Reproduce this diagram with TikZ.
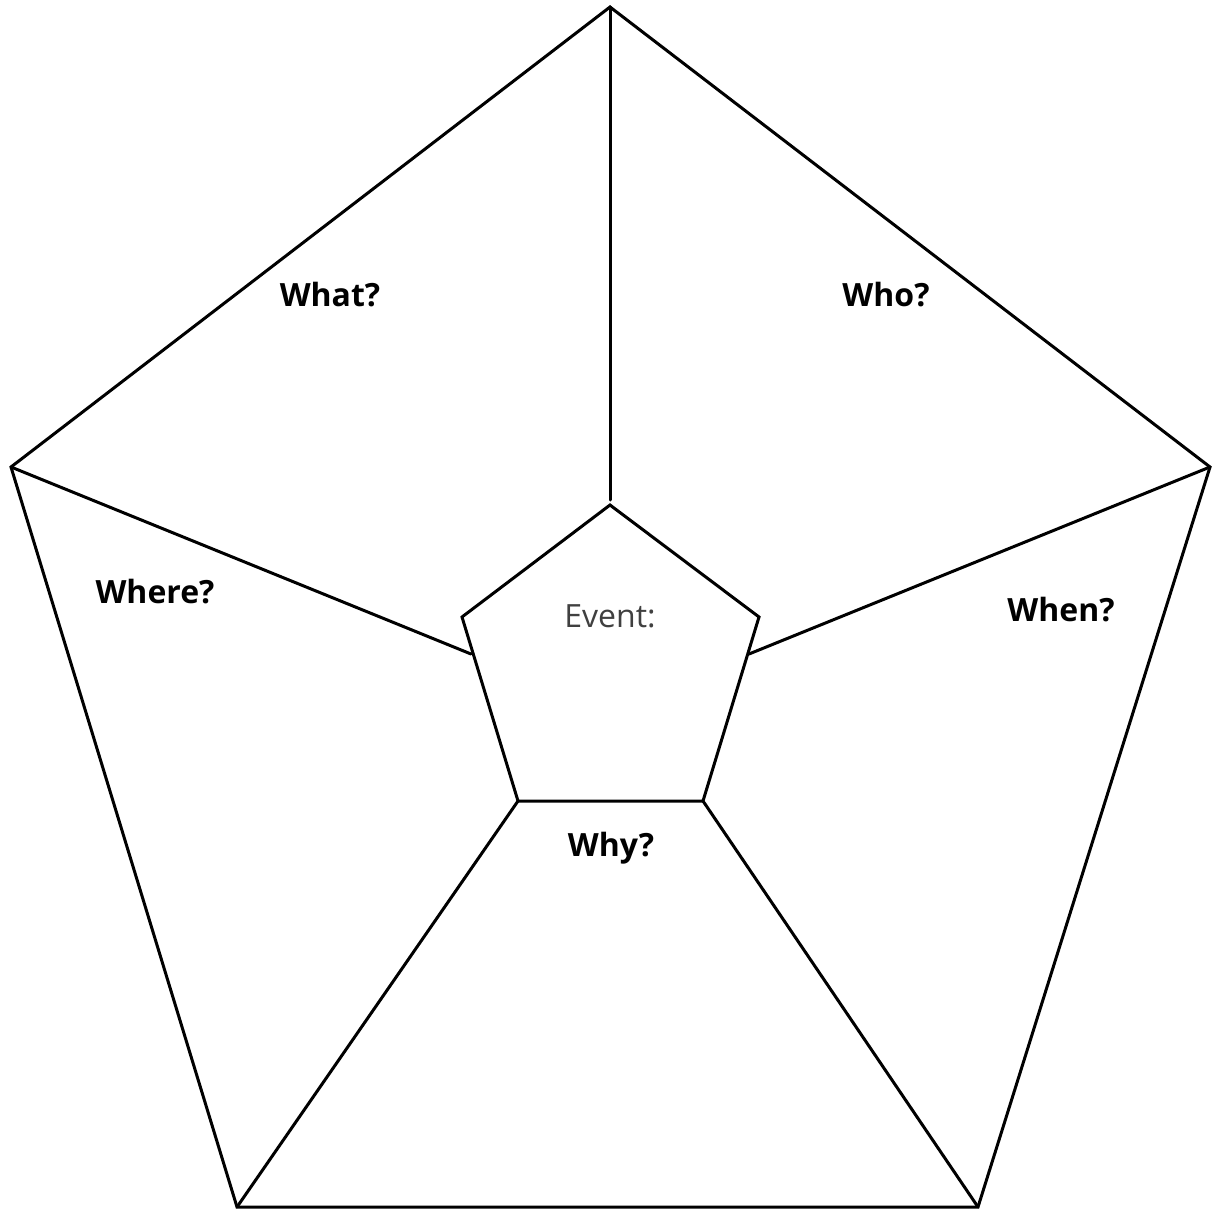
\documentclass[tikz,border=0pt]{standalone}
\usepackage{fontspec}
\setmainfont{Open Sans}
\begin{document}
\begin{tikzpicture}[x=0.5pt,y=-0.5pt,
  edge/.style={line width=1.5pt,line join=miter,line cap=round},
  qlabel/.style={font=\fontsize{16}{19}\selectfont\bfseries,text=black,inner sep=0pt},
  evlabel/.style={font=\fontsize{16}{19}\selectfont,text=black!75,inner sep=0pt}]
\useasboundingbox (0,0) rectangle (1215,1209);
% outer pentagon
\coordinate (OT) at (610,7);
\coordinate (OR) at (1210,467);
\coordinate (OBR) at (978,1207);
\coordinate (OBL) at (237,1207);
\coordinate (OL) at (11,467);
% inner pentagon
\coordinate (IT) at (610,505);
\coordinate (IR) at (759,617);
\coordinate (IBR) at (703,801);
\coordinate (IBL) at (518,801);
\coordinate (IL) at (462,617);
% connector ends on inner pentagon
\coordinate (CT) at (610,500);
\coordinate (CL) at (471,654);
\coordinate (CR) at (749,654);
\draw[edge] (OT) -- (OR) -- (OBR) -- (OBL) -- (OL) -- cycle;
\draw[edge] (IT) -- (IR) -- (IBR) -- (IBL) -- (IL) -- cycle;
\draw[edge] (OT) -- (CT);
\draw[edge] (OL) -- (CL);
\draw[edge] (OR) -- (CR);
\draw[edge] (OBL) -- (IBL);
\draw[edge] (OBR) -- (IBR);
\node[qlabel] (what) at (330,295) {What?};
\node[qlabel] (who) at (886,295) {Who?};
\node[qlabel] (where) at (155,592) {Where?};
\node[qlabel] (when) at (1061,610) {When?};
\node[qlabel] (why) at (611,848) {Why?};
\node[evlabel] (event) at (610,616) {Event:};
\end{tikzpicture}
\end{document}
